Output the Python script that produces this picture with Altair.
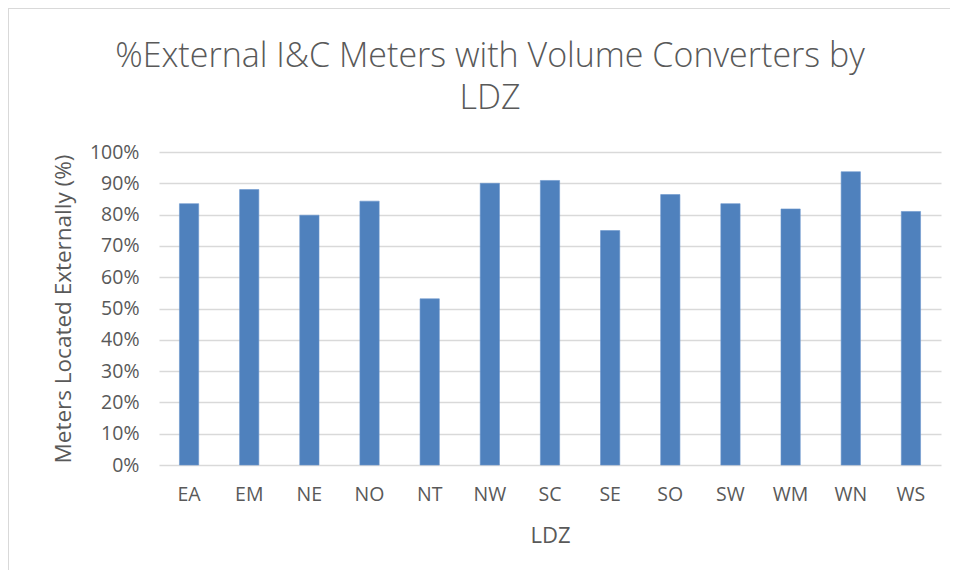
import altair as alt
import pandas as pd

ldz = ["EA", "EM", "NE", "NO", "NT", "NW", "SC", "SE", "SO", "SW", "WM", "WN", "WS"]
pct_external = [0.835, 0.880, 0.798, 0.843, 0.531, 0.900, 0.909, 0.749, 0.864, 0.835, 0.818, 0.937, 0.810]
y_ticks = [0.0, 0.1, 0.2, 0.3, 0.4, 0.5, 0.6, 0.7, 0.8, 0.9, 1.0]

df = pd.DataFrame({"LDZ": ldz, "Pct": pct_external})

FONT = "Open Sans"
GREY = "#595959"
W, H = 782, 313

bars = alt.Chart(df).mark_bar(color="#4f81bd", stroke="#6a95cc", strokeWidth=0.6).encode(
    x=alt.X("LDZ:N", sort=ldz, title="LDZ",
            scale=alt.Scale(paddingInner=0.68, paddingOuter=0.34),
            axis=alt.Axis(labelAngle=0, ticks=False, domain=False, labelPadding=20,
                          titlePadding=22, labelFontSize=19.5, titleFontSize=22,
                          labelColor=GREY, titleColor=GREY, labelFont=FONT, titleFont=FONT,
                          titleFontWeight="normal", grid=False)),
    y=alt.Y("Pct:Q", title="Meters Located Externally (%)",
            scale=alt.Scale(domain=[0, 1]),
            axis=alt.Axis(format=".0%", values=y_ticks, labelOverlap=False,
                          ticks=False, domain=False, labelPadding=20, titlePadding=14,
                          labelFontSize=19.5, titleFontSize=22.5, labelColor=GREY, titleColor=GREY,
                          labelFont=FONT, titleFont=FONT, titleFontWeight="normal",
                          grid=True, gridColor="#d9d9d9", gridWidth=1.5)),
)

frame_left = alt.Chart(df).mark_rule(color="#d9d9d9", strokeWidth=2).encode(
    x=alt.value(-151), y=alt.value(-144), y2=alt.value(H + 115)
)
frame_top = alt.Chart(df).mark_rule(color="#d9d9d9", strokeWidth=2).encode(
    x=alt.value(-151), x2=alt.value(W + 9), y=alt.value(-144)
)

chart = alt.layer(frame_left, frame_top, bars).properties(
    width=W,
    height=H,
    autosize="none",
    padding={"left": 151, "top": 144, "right": 9, "bottom": 105},
    title=alt.TitleParams(
        text=["%External I&C Meters with Volume Converters by", "LDZ"],
        font=FONT, fontSize=34, fontWeight=300, color=GREY,
        anchor="middle", dx=-60, offset=-109, lineHeight=42,
    ),
).configure(background="white").configure_view(strokeWidth=0, stroke=None)

chart.save("out.html", embed_options={"renderer": "svg", "actions": False})
